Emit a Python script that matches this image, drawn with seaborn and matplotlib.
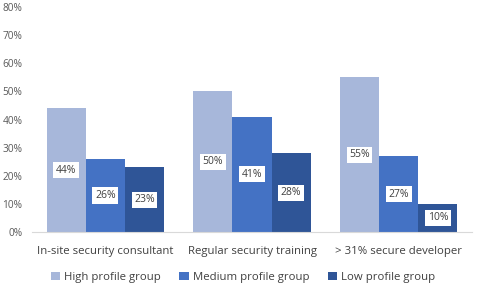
import numpy as np
import matplotlib
matplotlib.use("Agg")
import matplotlib.pyplot as plt
import pandas as pd
import seaborn as sns

categories = ["In-site security consultant", "Regular security training", "> 31% secure developer"]
groups = ["High profile group", "Medium profile group", "Low profile group"]
high = [44, 50, 55]
medium = [26, 41, 27]
low = [23, 28, 10]
colors = ["#A7B7DA", "#4472C4", "#2F5597"]

rows = []
for g, vals in zip(groups, [high, medium, low]):
    for c, v in zip(categories, vals):
        rows.append({"category": c, "group": g, "value": v})
df = pd.DataFrame(rows)

sns.set_style("white")
plt.rcParams["font.family"] = ["Open Sans", "DejaVu Sans"]

fig = plt.figure(figsize=(4.79, 2.84), dpi=100)
ax = fig.add_axes([32 / 479, 52 / 284, 440 / 479, 225 / 284])

sns.barplot(data=df, x="category", y="value", hue="group", palette=colors,
            order=categories, hue_order=groups, width=0.8, ax=ax,
            edgecolor="none", saturation=1, legend=True)

# white boxed value labels in the middle of each bar
for cont in ax.containers:
    for bar in cont:
        h = bar.get_height()
        ax.text(bar.get_x() + bar.get_width() / 2, h / 2, f"{h:.0f}%",
                ha="center", va="center", fontsize=7.5, color="#404040",
                bbox=dict(boxstyle="square,pad=0.25", fc="white", ec="none"))

ax.set_ylim(0, 80)
ax.set_xlim(-0.5, 2.5)
ax.set_yticks(range(0, 81, 10))
ax.set_yticklabels([f"{v}%" for v in range(0, 81, 10)], fontsize=7.3, color="#595959")
ax.tick_params(axis="x", labelsize=8.2, colors="#404040", pad=10, length=0)
ax.tick_params(axis="y", length=0, pad=7)
ax.set_xlabel("")
ax.set_ylabel("")
for s in ["top", "right", "left"]:
    ax.spines[s].set_visible(False)
ax.spines["bottom"].set_color("#D9D9D9")

ax.legend(loc="upper center", bbox_to_anchor=(0.48, -0.13), ncol=3, frameon=False,
          fontsize=8.2, handlelength=0.8, handleheight=0.8, handletextpad=0.4,
          columnspacing=1.6, labelcolor="#404040")

fig.savefig("out.png", dpi=100)
